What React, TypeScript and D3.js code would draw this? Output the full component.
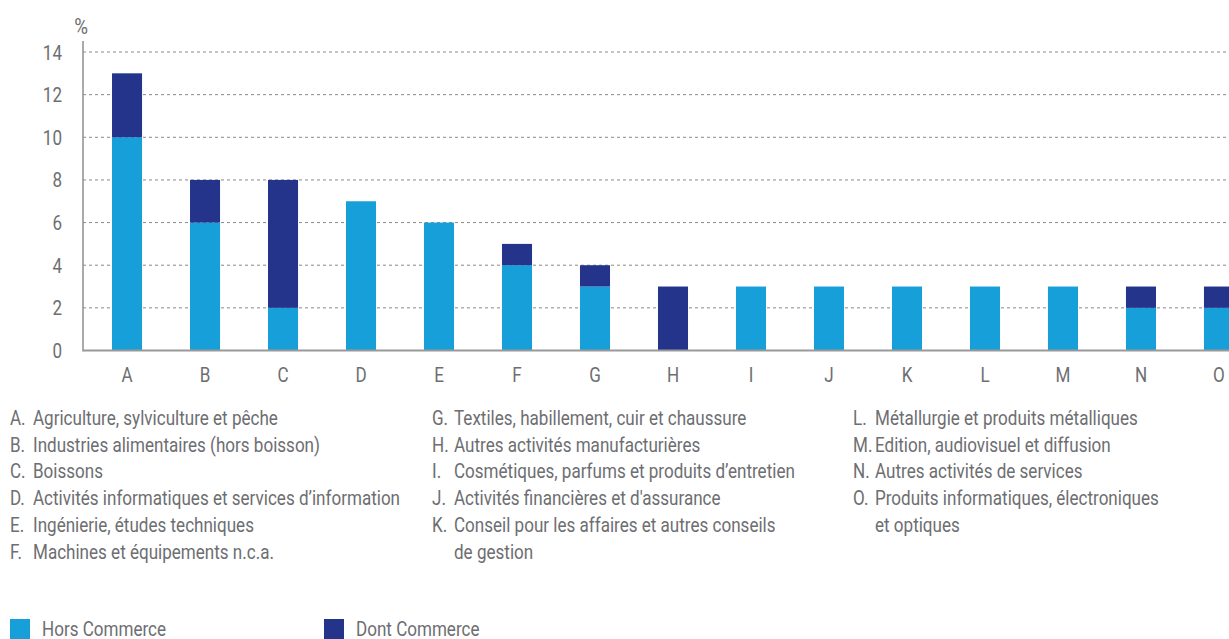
import React, { useLayoutEffect, useState } from "react";
import * as d3 from "d3";

const categories = ["A","B","C","D","E","F","G","H","I","J","K","L","M","N","O"];
const horsCommerce = [10, 6, 2, 7, 6, 4, 3, 0, 3, 3, 3, 3, 3, 2, 2];
const dontCommerce = [3, 2, 6, 0, 0, 1, 1, 3, 0, 0, 0, 0, 0, 1, 1];
const yTicks = [0, 2, 4, 6, 8, 10, 12, 14];

const legendCol1 = [
  ["A.", "Agriculture, sylviculture et pêche"],
  ["B.", "Industries alimentaires (hors boisson)"],
  ["C.", "Boissons"],
  ["D.", "Activités informatiques et services d’information"],
  ["E.", "Ingénierie, études techniques"],
  ["F.", "Machines et équipements n.c.a."],
];
const legendCol2 = [
  ["G.", "Textiles, habillement, cuir et chaussure"],
  ["H.", "Autres activités manufacturières"],
  ["I.", "Cosmétiques, parfums et produits d’entretien"],
  ["J.", "Activités financières et d'assurance"],
  ["K.", "Conseil pour les affaires et autres conseils"],
  ["", "de gestion"],
];
const legendCol3 = [
  ["L.", "Métallurgie et produits métalliques"],
  ["M.", "Edition, audiovisuel et diffusion"],
  ["N.", "Autres activités de services"],
  ["O.", "Produits informatiques, électroniques"],
  ["", "et optiques"],
];
const seriesNames = ["Hors Commerce", "Dont Commerce"];

const LIGHT = "#179fda";
const DARK = "#24348b";
const TEXT = "#6d6e71";
const FONT = "Roboto, 'Noto Sans', sans-serif";
const FS = 20;
const REF_TARGET = 245; // px width of "Agriculture, sylviculture et pêche" in reference

function T({ x, y, s, anchor, children, size }: any) {
  return (
    <text transform={`translate(${x},${y}) scale(${s},1)`} fontSize={size || FS} fill={TEXT} textAnchor={anchor || "start"}>
      {children}
    </text>
  );
}

export default function App() {
  const W = 1229, H = 639;
  const [s, setS] = useState(0.78);
  useLayoutEffect(() => {
    const ns = "http://www.w3.org/2000/svg";
    const svg = document.createElementNS(ns, "svg");
    svg.setAttribute("style", "position:absolute;left:0;top:0;visibility:hidden");
    const t = document.createElementNS(ns, "text");
    t.setAttribute("font-family", FONT);
    t.setAttribute("font-size", String(FS));
    t.textContent = legendCol1[0][1];
    svg.appendChild(t);
    document.body.appendChild(svg);
    const len = t.getComputedTextLength();
    document.body.removeChild(svg);
    if (len > 0) setS(REF_TARGET / len);
  }, []);

  const x0 = 83;
  const x = d3.scaleBand<string>().domain(categories).range([x0, 1263]).paddingInner(0.615).paddingOuter(0.372);
  const y = d3.scaleLinear().domain([0, 14]).range([350.5, 52]);

  const stack = d3.stack<any>().keys(["h", "d"])(
    categories.map((c, i) => ({ c, h: horsCommerce[i], d: dontCommerce[i] }))
  );
  const colors = [LIGHT, DARK];

  const cols = [
    { items: legendCol1, x: 10, tx: 33 },
    { items: legendCol2, x: 432, tx: 454 },
    { items: legendCol3, x: 853, tx: 875 },
  ];

  return (
    <svg width={W} height={H} style={{ display: "block", position: "absolute", left: 0, top: 0 }} fontFamily={FONT}>
      <rect width={W} height={H} fill="#fff" />
      {yTicks.filter(t => t > 0).map(t => (
        <line key={t} x1={x0} x2={W} y1={y(t)} y2={y(t)} stroke="#8a8a8a" strokeWidth={1} strokeDasharray="3,3" />
      ))}
      {stack.map((st, si) => (
        <g key={si} fill={colors[si]}>
          {st.map((d, i) => d[1] - d[0] > 0 ? (
            <rect key={i} x={x(categories[i])} width={x.bandwidth()} y={y(d[1])} height={y(d[0]) - y(d[1])} />
          ) : null)}
        </g>
      ))}
      <line x1={x0} x2={x0} y1={41} y2={351.5} stroke="#8e8e8e" strokeWidth={1.5} />
      <line x1={x0} x2={W} y1={350.5} y2={350.5} stroke="#999" strokeWidth={2} />
      <T x={81} y={34} s={s} anchor="middle" size={22}>%</T>
      {yTicks.map(t => (
        <T key={t} x={62} y={y(t) + 7.5} s={s} anchor="end">{t}</T>
      ))}
      {categories.map(c => (
        <T key={c} x={(x(c) as number) + x.bandwidth() / 2} y={382} s={s} anchor="middle">{c}</T>
      ))}
      {cols.map((col, ci) => (
        <g key={ci}>
          {col.items.map((it, i) => (
            <g key={i}>
              {it[0] ? <T x={col.x} y={425 + i * 26.7} s={s}>{it[0]}</T> : null}
              <T x={col.tx} y={425 + i * 26.7} s={s}>{it[1]}</T>
            </g>
          ))}
        </g>
      ))}
      {seriesNames.map((n, i) => (
        <g key={n}>
          <rect x={10 + i * 314} y={619} width={20} height={20} fill={colors[i]} />
          <T x={42 + i * 314} y={636} s={s}>{n}</T>
        </g>
      ))}
    </svg>
  );
}
